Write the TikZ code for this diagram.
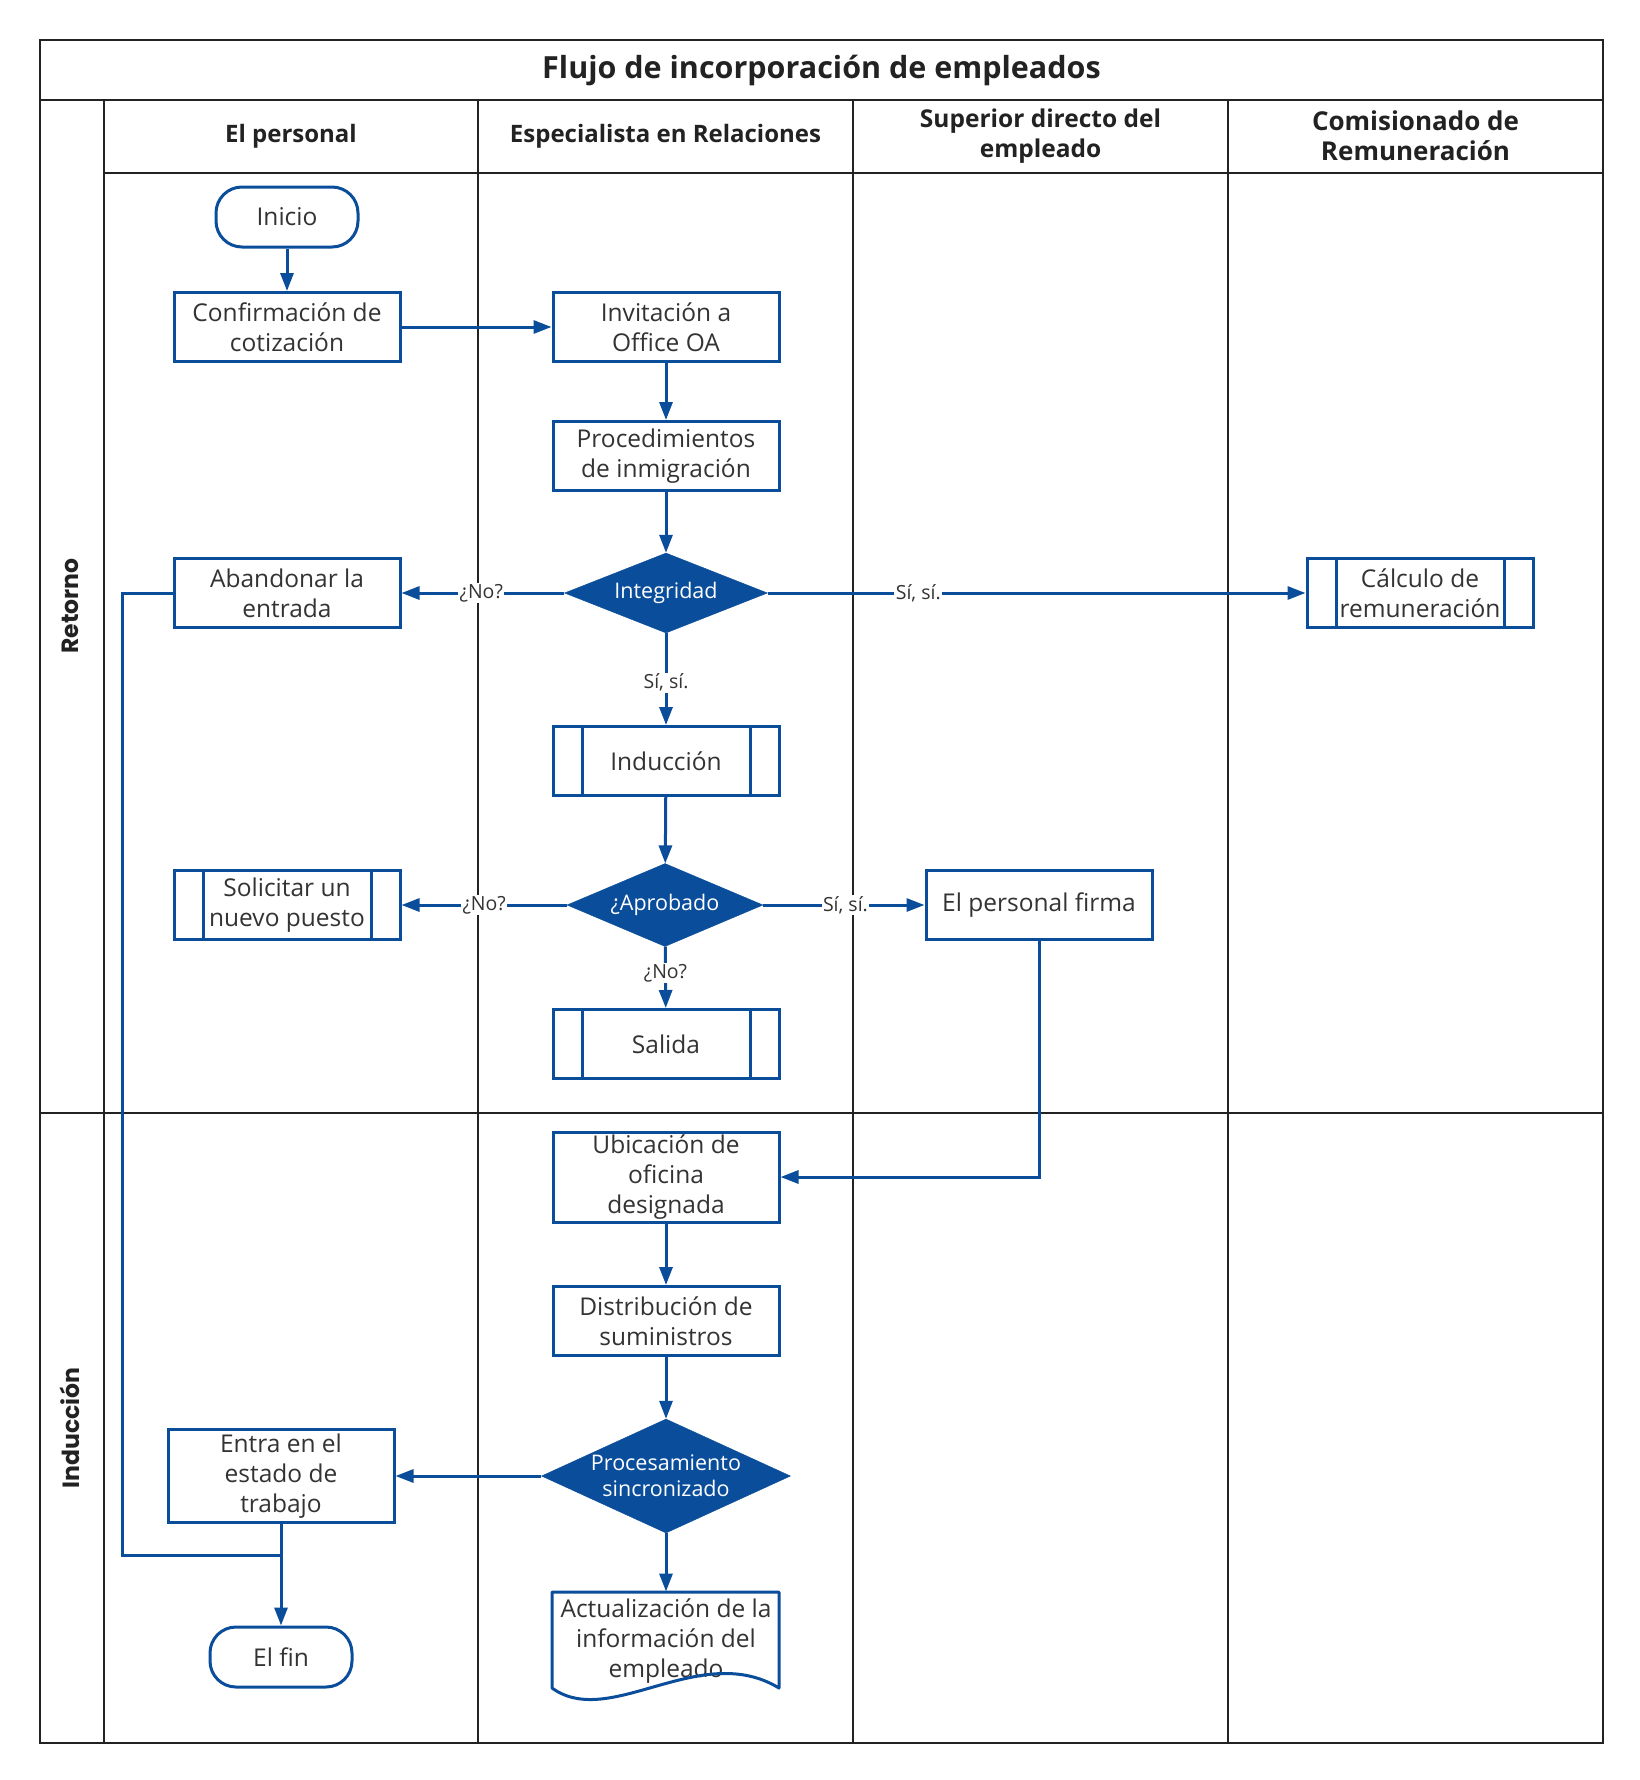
\documentclass[tikz,border=0pt]{standalone}
\usepackage{fontspec}
\setmainfont{Open Sans}
\newfontfamily\lanefont{Poppins}
\usetikzlibrary{arrows.meta,shapes.geometric,calc}
\definecolor{pblue}{HTML}{0A4D9A}
\definecolor{txt}{HTML}{333333}
\definecolor{lanec}{HTML}{222222}
\begin{document}
\begin{tikzpicture}[x=1pt,y=-1pt,
  box/.style={draw=pblue, line width=3pt, fill=white, text=txt, align=center,
    minimum width=226pt, minimum height=69pt, inner sep=0pt,
    font=\fontsize{24.5}{30}\selectfont},
  term/.style={box, rounded corners=26pt, minimum width=142pt, minimum height=60pt},
  predef/.style={box, path picture={\draw[pblue,line width=3pt]
    ([xshift=29pt]path picture bounding box.north west) -- ([xshift=29pt]path picture bounding box.south west)
    ([xshift=-29pt]path picture bounding box.north east) -- ([xshift=-29pt]path picture bounding box.south east);}},
  dec/.style={diamond, fill=pblue, draw=pblue, text=white, align=center, inner sep=0pt,
    font=\fontsize{21.5}{26}\selectfont},
  conn/.style={draw=pblue, line width=3pt, -{Triangle[length=18pt,width=13pt]}},
  plainc/.style={draw=pblue, line width=3pt},
  elab/.style={fill=white, text=txt, inner sep=1.5pt, font=\fontsize{19.5}{22}\selectfont},
  hdr/.style={text=lanec, align=center, font=\bfseries\fontsize{24}{30}\selectfont},
  lanelbl/.style={text=lanec, rotate=90, font=\lanefont\bfseries\fontsize{23.5}{26}\selectfont},
  frameline/.style={draw=lanec, line width=2.5pt},
  colline/.style={draw=lanec, line width=1.5pt}
]
\fill[white] (0,0) rectangle (1639,1780);
\useasboundingbox (0,0) rectangle (1639,1780);

% frame and lanes
\draw[colline] (104,100) -- (104,1743);
\draw[colline] (478,100) -- (478,1743);
\draw[colline] (853,100) -- (853,1743);
\draw[colline] (1228,100) -- (1228,1743);
\draw[frameline] (40,100) -- (1603,100);
\draw[frameline] (104,173) -- (1603,173);
\draw[draw=lanec, line width=1.8pt] (40,1113) -- (1603,1113);
\draw[frameline] (40,40) rectangle (1603,1743);

\node[text=lanec, font=\bfseries\fontsize{30.5}{36}\selectfont] (title) at (821.5,70) {Flujo de incorporación de empleados};
\node[hdr] (h1) at (291,136) {El personal};
\node[hdr] (h2) at (665.5,136) {Especialista en Relaciones};
\node[hdr, font=\bfseries\fontsize{24.5}{30}\selectfont] (h3) at (1040.5,136) {Superior directo del\\empleado};
\node[hdr, font=\bfseries\fontsize{26}{30}\selectfont] (h4) at (1415.5,136) {Comisionado de\\Remuneración};
\node[lanelbl] (l1) at (70,606) {Retorno};
\node[lanelbl] (l2) at (70,1428) {Inducción};

% nodes
\node[term] (inicio) at (287,217) {Inicio};
\node[box] (conf) at (287,327) {Confirmación de\\cotización};
\node[box] (invit) at (666,327) {Invitación a\\Office OA};
\node[box] (proc) at (666,456) {Procedimientos\\de inmigración};
\node[dec, minimum width=203pt, minimum height=80pt, aspect=2.54] (integ) at (666,593) {Integridad};
\node[box] (aband) at (287,593) {Abandonar la\\entrada};
\node[predef] (calc) at (1420,593) {Cálculo de\\remuneración};
\node[predef] (induc) at (666,761) {Inducción};
\node[dec, minimum width=196pt, minimum height=83pt, aspect=2.36] (aprob) at (665,905) {¿Aprobado};
\node[predef] (solic) at (287,905) {Solicitar un\\nuevo puesto};
\node[box] (firma) at (1039,905) {El personal firma};
\node[predef] (salida) at (666,1044) {Salida};
\node[box, minimum height=90pt] (ubic) at (666,1177) {Ubicación de\\oficina\\designada};
\node[box] (distr) at (666,1321) {Distribución de\\suministros};
\node[dec, minimum width=249pt, minimum height=114pt, aspect=2.18] (procs) at (666,1476) {Procesamiento\\sincronizado};
\node[box, minimum height=93pt] (entra) at (281,1476) {Entra en el\\estado de\\trabajo};
\node[term] (fin) at (281,1657) {El fin};
\node[box, draw=none, fill=none, minimum height=96pt] (actu) at (666,1641) {Actualización de la\\información del\\empleado};
\draw[pblue, line width=3pt, line join=round] (552,1592) -- (779,1592) -- (779,1688)
  .. controls (700,1640) and (610,1730) .. (552,1688) -- cycle;

% connectors
\draw[conn] (inicio) -- (conf);
\draw[conn] (conf) -- (invit);
\draw[conn] (invit) -- (proc);
\draw[conn] (proc) -- (integ);
\draw[conn] (integ) -- node[elab, pos=0.51]{¿No?} (aband);
\draw[conn] (integ) -- node[elab, pos=0.28]{Sí, sí.} (calc);
\draw[conn] (integ) -- node[elab, pos=0.54]{Sí, sí.} (induc);
\draw[conn] (induc) -- (aprob);
\draw[conn] (aprob) -- node[elab, pos=0.5]{¿No?} (solic);
\draw[conn] (aprob) -- node[elab, pos=0.51]{Sí, sí.} (firma);
\draw[conn] (aprob) -- node[elab, pos=0.43]{¿No?} (salida);
\draw[conn] (firma) |- (ubic);
\draw[conn] (ubic) -- (distr);
\draw[conn] (distr) -- (procs);
\draw[conn] (procs) -- (entra);
\draw[conn] (procs) -- (actu);
\draw[conn] (entra) -- (fin);
\coordinate (j) at (281,1555);
\draw[plainc] (aband.west) -- ++(-50,0) |- (j);
\end{tikzpicture}
\end{document}
